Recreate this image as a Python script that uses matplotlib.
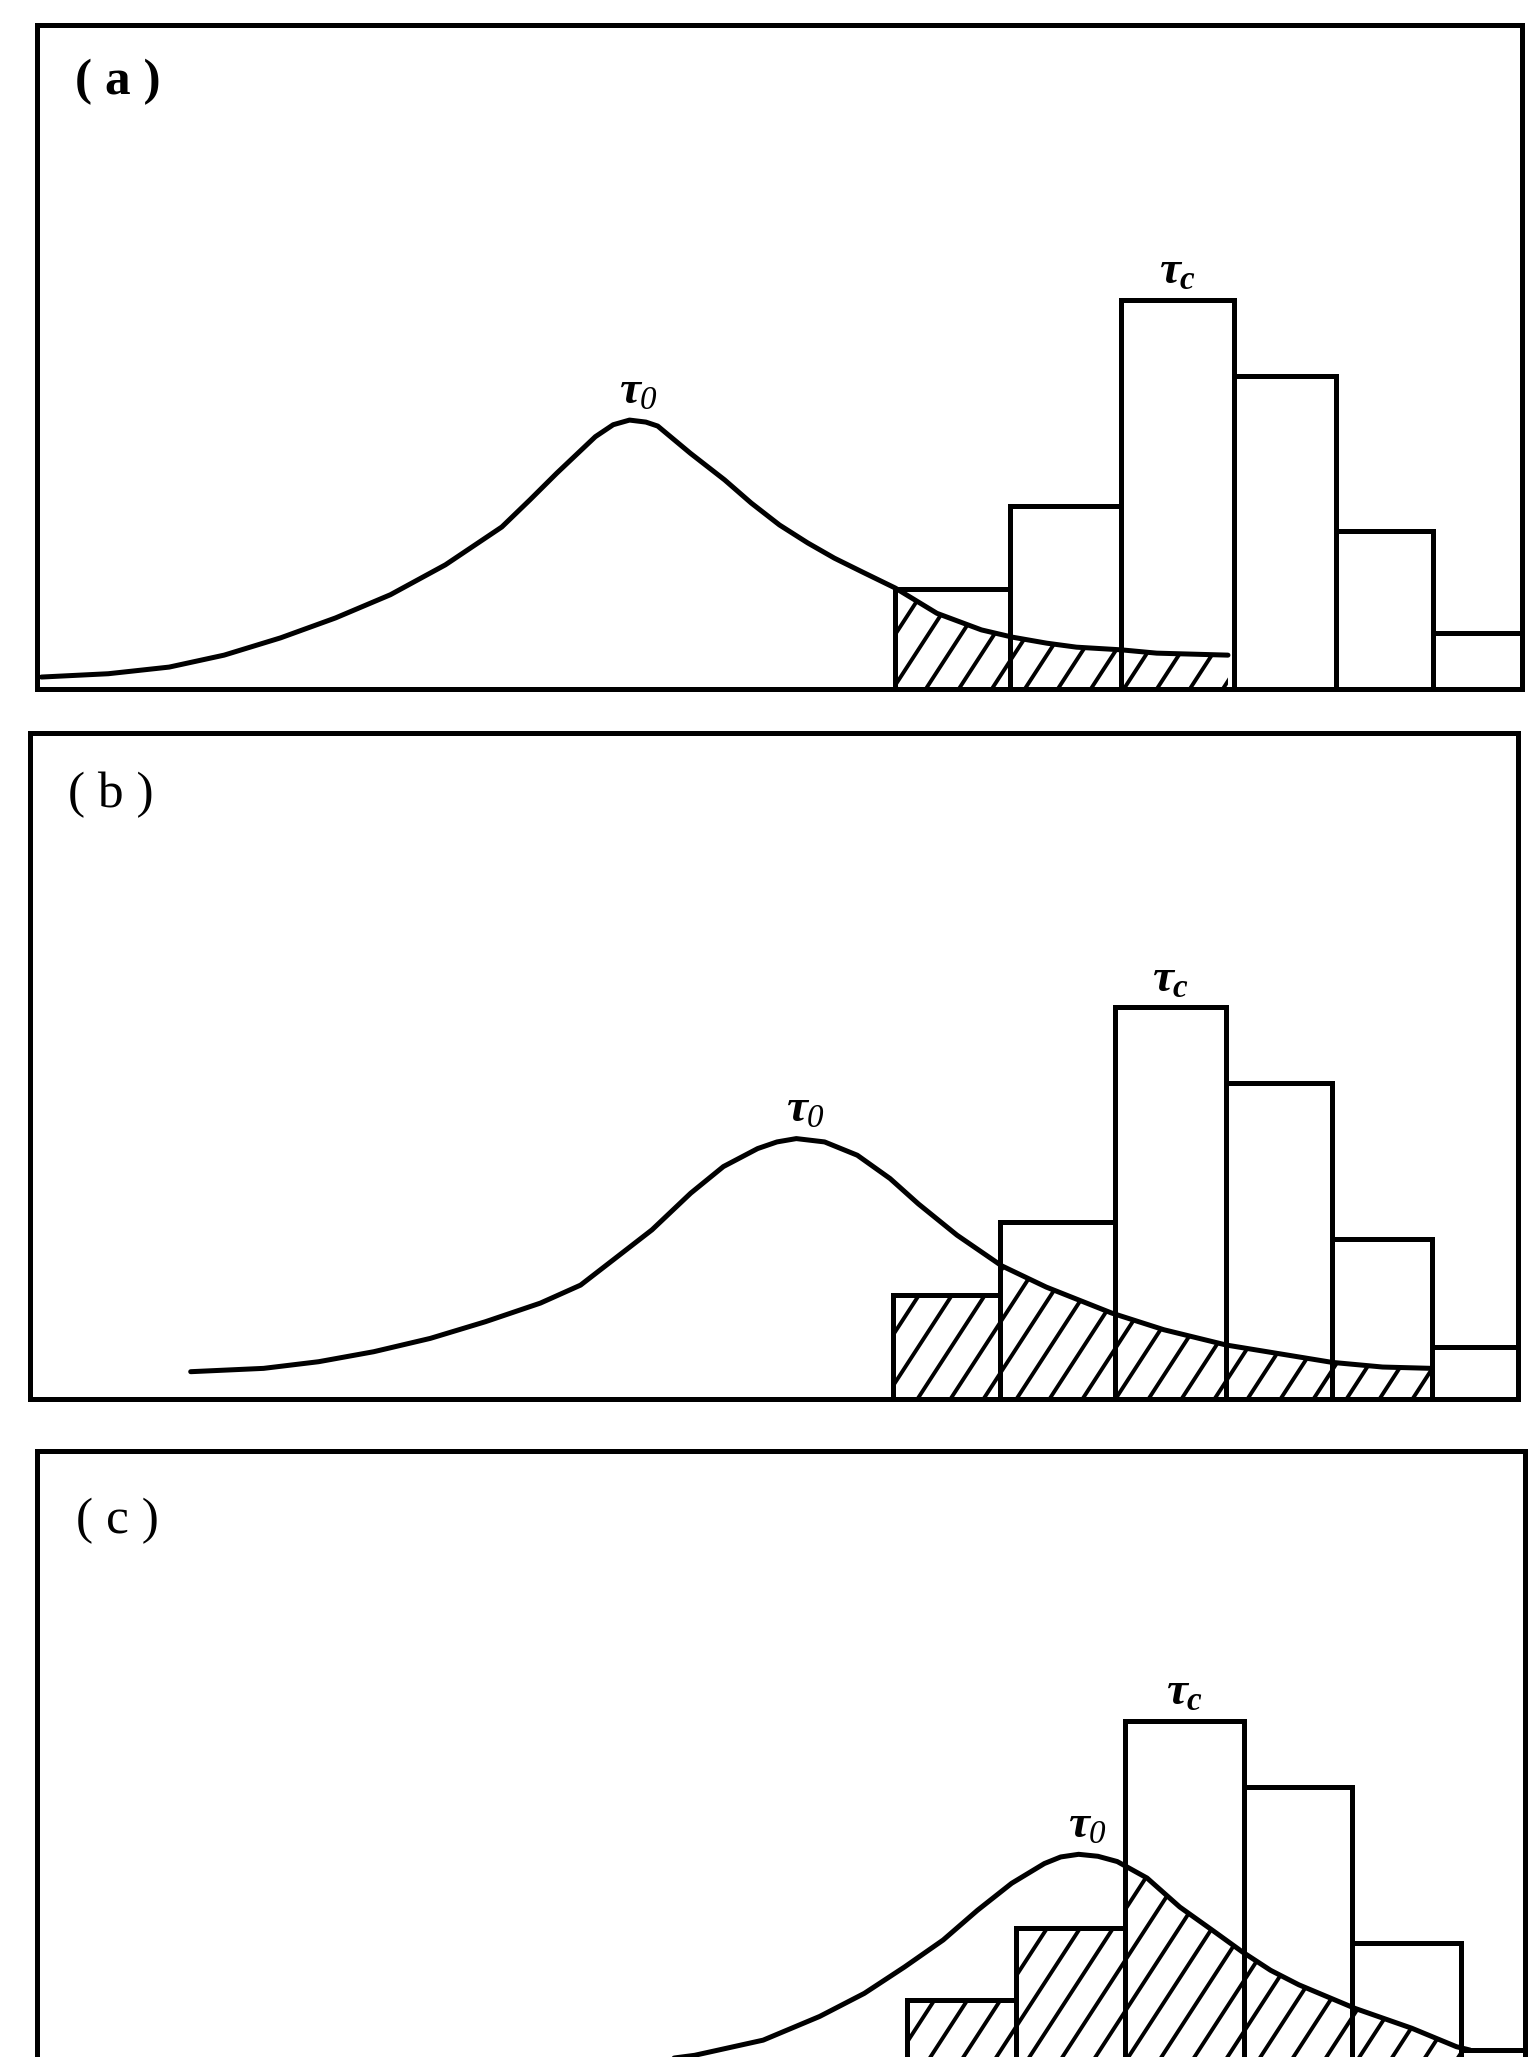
import numpy as np
import matplotlib
matplotlib.use('Agg')
import matplotlib.pyplot as plt
from matplotlib.path import Path
from matplotlib.patches import PathPatch
from matplotlib.transforms import Bbox
from matplotlib.collections import LineCollection

plt.rcParams['mathtext.fontset'] = 'custom'
plt.rcParams['mathtext.it'] = 'Liberation Serif:italic:bold'
plt.rcParams['mathtext.rm'] = 'Liberation Serif:italic'
plt.rcParams['mathtext.bf'] = 'Liberation Serif:bold'

# ---------------- data (axis units 0..100 in each panel) ----------------
panel_labels = ['( a )', '( b )', '( c )']
panel_weights = ['bold', 'normal', 'normal']

# histogram of tau_c: bin edges and bar heights
edges_a = [57.8, 65.5, 73.0, 80.6, 87.5, 94.0, 100.0]
heights_a = [15.1, 27.6, 58.6, 47.1, 23.8, 8.4]
edges_b = [58.0, 65.2, 72.9, 80.4, 87.5, 94.2, 100.0]
heights_b = [15.6, 26.6, 58.8, 47.5, 24.0, 7.8]
edges_c = [58.5, 65.8, 73.1, 81.1, 88.4, 95.7, 100.0]
heights_c = [16.7, 27.6, 59.1, 49.0, 25.3, 9.1]

# distribution curve of tau_0
curve_x_a = [0.3, 4.8, 8.9, 12.6, 16.4, 20.1, 23.8, 27.5, 31.3, 33.2, 35.0, 37.6, 38.8,
             39.9, 41.0, 41.8, 44.0, 46.3, 48.1, 50.0, 51.9, 53.7, 55.6, 57.8,
             60.6, 63.6, 65.7, 68.0, 70.0, 73.0, 75.4, 80.2]
curve_y_a = [1.8, 2.3, 3.3, 5.1, 7.7, 10.7, 14.2, 18.7, 24.4, 28.5, 32.5, 38.0, 39.8,
             40.5, 40.2, 39.6, 35.5, 31.5, 28.0, 24.7, 22.0, 19.7, 17.6, 15.2,
             11.4, 8.9, 7.8, 6.9, 6.3, 5.9, 5.4, 5.1]
curve_x_b = [10.8, 15.7, 19.4, 23.1, 26.9, 30.6, 34.3, 37.0, 39.2, 41.8, 44.4,
             46.6, 48.9, 50.2, 51.5, 53.4, 55.6, 57.8, 59.7, 62.3, 65.3, 68.3,
             72.7, 76.2, 80.4, 84.5, 87.5, 90.9, 94.2]
curve_y_b = [4.1, 4.6, 5.6, 7.1, 9.1, 11.6, 14.4, 17.1, 20.9, 25.4, 30.9,
             34.9, 37.6, 38.6, 39.1, 38.6, 36.6, 33.1, 29.3, 24.6, 20.0, 16.8,
             12.9, 10.4, 8.1, 6.6, 5.5, 4.8, 4.6]
curve_x_c = [25.7, 32.5, 37.8, 44.2, 48.8, 52.6, 55.6, 58.3, 60.9, 63.2, 65.5,
             67.7, 68.8, 70.0, 71.3, 72.6, 74.6, 76.8, 79.1, 81.0, 82.9, 84.8,
             88.6, 92.4, 95.4, 96.3]
curve_y_c = [3.3, 4.9, 6.4, 8.3, 10.6, 14.2, 17.7, 21.7, 25.8, 30.3, 34.4,
             37.4, 38.4, 38.8, 38.5, 37.7, 35.2, 30.8, 27.1, 24.0, 21.2, 19.0,
             15.4, 12.4, 9.6, 9.1]

panels = [
    (edges_a, heights_a, curve_x_a, curve_y_a),
    (edges_b, heights_b, curve_x_b, curve_y_b),
    (edges_c, heights_c, curve_x_c, curve_y_c),
]

# ---------------- layout ----------------
W, H = 1535, 2057
fig = plt.figure(figsize=(W / 100, H / 100), dpi=100)
fig.patch.set_facecolor('white')

# frame boxes in pixels: left, top, right, bottom
frames = [(37, 25, 1522, 689), (30, 733, 1518, 1399), (37, 1451, 1525, 2110)]
label_offsets = [(38, 57), (38, 62), (39, 70)]

LW = 3.6
HATCH_LW = 2.8
HATCH_SPACING_PX = 33
HATCH_ANGLE = 57

for (edges, heights, cx, cy), (l, t, r, b), lab, wt, (ox, oy) in zip(
        panels, frames, panel_labels, panel_weights, label_offsets):
    ax = fig.add_axes([l / W, 1 - b / H, (r - l) / W, (b - t) / H])
    ax.set_xlim(0, 100)
    ax.set_ylim(0, 100)
    ax.set_xticks([])
    ax.set_yticks([])
    for s in ax.spines.values():
        s.set_linewidth(LW)
        s.set_color('black')

    edges = np.asarray(edges)
    heights = np.asarray(heights)
    cx = np.asarray(cx)
    cy = np.asarray(cy)

    # bars
    ax.bar(edges[:-1], heights, width=np.diff(edges), align='edge', fill=False,
           edgecolor='black', linewidth=LW, zorder=3)

    # curve
    ax.plot(cx, cy, color='black', lw=LW, solid_joinstyle='round',
            solid_capstyle='round', zorder=3)

    # hatch: area under curve inside bars
    ux = (r - l) / 100.0
    uy = (b - t) / 100.0
    step = HATCH_SPACING_PX / ux
    slope = np.tan(np.radians(HATCH_ANGLE)) * ux / uy
    run = 100.0 / slope
    starts = np.arange(-run - step, 100 + step, step)
    segs = [[(s0, 0), (s0 + run, 100)] for s0 in starts]

    verts = [(cx[0], 0.0)] + list(zip(cx, cy)) + [(cx[-1], 0.0), (cx[0], 0.0)]
    under = Path(verts, closed=True)
    for e0, e1, h in zip(edges[:-1], edges[1:], heights):
        clipped = under.clip_to_bbox(Bbox([[e0, -1.0], [e1, h]]), inside=True)
        if len(clipped.vertices) < 3:
            continue
        cp = PathPatch(clipped, transform=ax.transData, facecolor='none',
                       edgecolor='none')
        lc = LineCollection(segs, colors='black', linewidths=HATCH_LW, zorder=2)
        ax.add_collection(lc)
        lc.set_clip_path(cp)

    # labels
    ax.annotate(lab, xy=(0, 1), xycoords='axes fraction',
                xytext=(ox * 0.72, -oy * 0.72), textcoords='offset points',
                ha='left', va='center', fontsize=37, family='Liberation Serif',
                fontweight=wt)

    k = int(np.argmax(heights))
    ax.text((edges[k] + edges[k + 1]) / 2, heights[k] + 4.3, r'$\tau_{c}$',
            ha='center', va='center', fontsize=34, zorder=4)
    j = int(np.argmax(cy))
    ax.text(cx[j] + 0.6, cy[j] + 4.4, r'$\tau_{0}$',
            ha='center', va='center', fontsize=34, zorder=4)

fig.savefig('out.png', dpi=100, facecolor='white')
